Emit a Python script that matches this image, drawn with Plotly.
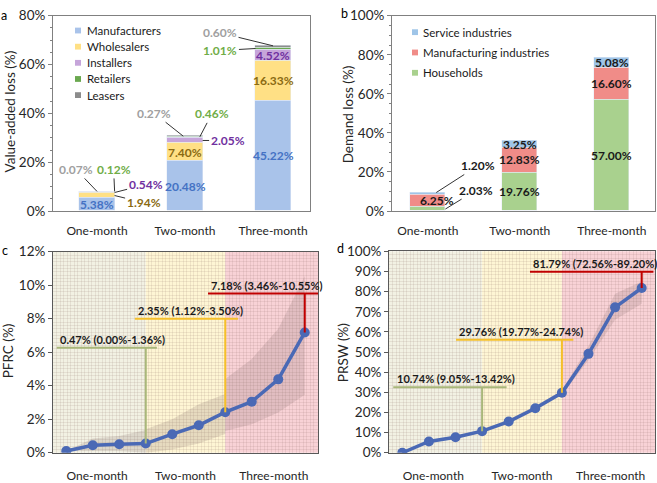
import numpy as np
import plotly.graph_objects as go

# ---------------- data ----------------
periods = ["One-month", "Two-month", "Three-month"]

# panel a: value-added loss (%)
va_names = ["Manufacturers", "Wholesalers", "Installers", "Retailers", "Leasers"]
manufacturers = [5.38, 20.48, 45.22]
wholesalers = [1.94, 7.40, 16.33]
installers = [0.54, 2.05, 4.52]
retailers = [0.12, 0.46, 1.01]
leasers = [0.07, 0.27, 0.60]

# panel b: demand loss (%)
dl_names = ["Households", "Manufacturing industries", "Service industries"]
households = [2.03, 19.76, 57.00]
manufacturing_ind = [6.25, 12.83, 16.60]
service_ind = [1.20, 3.25, 5.08]

# panel c: PFRC (%)
steps = list(range(10))
pfrc = [0.10, 0.45, 0.51, 0.55, 1.11, 1.64, 2.42, 3.05, 4.38, 7.18]
pfrc_band_low = [[0.10, 0.10, 0.10, 0.00], [0.00, 0.20, 0.55, 1.12], [1.30, 1.70, 2.40, 3.46]]
pfrc_band_high = [[0.10, 0.85, 1.00, 1.36], [1.40, 2.00, 2.90, 3.50], [4.40, 5.60, 7.40, 10.55]]
pfrc_labels = ["0.47% (0.00%-1.36%)", "2.35% (1.12%-3.50%)", "7.18% (3.46%-10.55%)"]

# panel d: PRSW (%)
prsw = [0.0, 5.6, 7.7, 10.74, 15.5, 22.1, 29.76, 49.1, 72.2, 81.79]
prsw_band_low = [[0.0, 5.0, 7.0, 10.0], [10.0, 14.5, 21.0, 28.8], [28.8, 46.0, 66.0, 74.0]]
prsw_band_high = [[0.0, 6.2, 8.5, 11.6], [11.6, 16.5, 23.3, 30.8], [30.8, 53.0, 79.0, 85.0]]
prsw_labels = ["10.74% (9.05%-13.42%)", "29.76% (19.77%-24.74%)", "81.79% (72.56%-89.20%)"]

seg_idx = [[0, 1, 2, 3], [3, 4, 5, 6], [6, 7, 8, 9]]

# ---------------- style ----------------
FONT = "Lato, Roboto, 'Liberation Sans', sans-serif"
TXT = "#262626"
W, H = 657, 483

va_colors = ["#a9c3ea", "#ffe085", "#c6a5da", "#6aa84f", "#8c8c8c"]
va_label_colors = ["#4472c4", "#8a6a12", "#7030a0", "#70ad47", "#a0a0a0"]
dl_colors = ["#a9d18e", "#f08c88", "#9fc5e8"]
region_colors = ["#f2f1e3", "#fef5d4", "#f8d2d6"]
seg_line_colors = ["#a9b77a", "#f5bf2a", "#c00000"]
GRID = "rgba(140,110,100,0.13)"
LINE_BLUE = "#4a69b5"
XTICK_SIZE = 12
YTICK_SIZE = 13.5
BAR_LBL = 12

fig = go.Figure()
annots = []
shapes = []


def px_x(v):
    return v / W


def px_y(v):
    return 1 - v / H


# ---------------- panel a ----------------
xa = np.arange(len(periods))
va_series = [manufacturers, wholesalers, installers, retailers, leasers]
bw_a = 0.4
for name, vals, col in zip(va_names, va_series, va_colors):
    fig.add_trace(go.Bar(x=xa, y=vals, name=name, marker_color=col, width=bw_a,
                         xaxis="x", yaxis="y", showlegend=False))

va_arr = np.array(va_series)
va_top = np.cumsum(va_arr, axis=0)
va_bot = va_top - va_arr

inside_a = {(0, 0), (0, 1), (0, 2), (1, 1), (1, 2), (2, 2)}
for s in range(len(va_names)):
    for p in range(len(periods)):
        if (s, p) in inside_a:
            annots.append(dict(x=xa[p], y=(va_top[s, p] + va_bot[s, p]) / 2, xref="x", yref="y",
                               text="<b>%.2f%%</b>" % va_arr[s, p], showarrow=False,
                               font=dict(size=BAR_LBL, color=va_label_colors[s], family=FONT)))

# outside labels: (series, period, tip x offset in bar widths, tip y mode, ax, ay)
outside_a = [
    (1, 0, 0.5, "mid", 29, 7),
    (2, 0, 0.5, "mid", 31, -8),
    (3, 0, 0.5, "total", -1, -22),
    (4, 0, 0.0, "total", -21, -22),
    (2, 1, 0.5, "mid", 25, 0),
    (3, 1, 0.42, "top", 12, -23),
    (4, 1, -0.05, "total", -29, -23),
    (3, 2, -0.5, "mid", -35, 2),
    (4, 2, 0.0, "total", -53, -13),
]
for s, p, dx, mode, ax, ay in outside_a:
    if mode == "mid":
        ty = (va_top[s, p] + va_bot[s, p]) / 2
    elif mode == "top":
        ty = va_top[s, p]
    else:
        ty = va_top[-1, p]
    annots.append(dict(x=xa[p] + dx * bw_a, y=ty, xref="x", yref="y", ax=ax, ay=ay,
                       text="<b>%.2f%%</b>" % va_arr[s, p], showarrow=True, arrowhead=0,
                       arrowwidth=1, arrowcolor="#333333", standoff=0,
                       font=dict(size=BAR_LBL, color=va_label_colors[s], family=FONT)))

# manual legend (a)
for k, (name, col) in enumerate(zip(va_names, va_colors)):
    yc = 23.3 + 16.7 * k
    shapes.append(dict(type="rect", xref="paper", yref="paper", x0=px_x(75), x1=px_x(81),
                       y0=px_y(yc + 3), y1=px_y(yc - 3), fillcolor=col, line_width=0))
    annots.append(dict(x=px_x(84.5), y=px_y(yc), xref="paper", yref="paper", xanchor="left",
                       yanchor="middle", text=name, showarrow=False,
                       font=dict(size=11.5, color="#1a1a1a", family=FONT)))

# ---------------- panel b ----------------
xb = np.arange(len(periods))
dl_series = [households, manufacturing_ind, service_ind]
bw_b = 0.38
for name, vals, col in zip(dl_names, dl_series, dl_colors):
    fig.add_trace(go.Bar(x=xb, y=vals, name=name, marker_color=col, width=bw_b,
                         xaxis="x2", yaxis="y2", showlegend=False))
dl_arr = np.array(dl_series)
dl_top = np.cumsum(dl_arr, axis=0)
dl_bot = dl_top - dl_arr
for s in range(len(dl_names)):
    for p in range(len(periods)):
        if p == 0 and s != 1:
            continue
        dxp = 0.1 if p == 0 else 0.0
        annots.append(dict(x=xb[p] + dxp, y=(dl_top[s, p] + dl_bot[s, p]) / 2, xref="x2", yref="y2",
                           text="<b>%.2f%%</b>" % dl_arr[s, p], showarrow=False,
                           font=dict(size=BAR_LBL, color="#1a1a1a", family=FONT)))
outside_b = [
    (0, 0, 0.5, "mid", 31, -19),
    (2, 0, 0.24, "total", 42, -27),
]
for s, p, dx, mode, ax, ay in outside_b:
    ty = (dl_top[s, p] + dl_bot[s, p]) / 2 if mode == "mid" else dl_top[-1, p]
    annots.append(dict(x=xb[p] + dx * bw_b, y=ty, xref="x2", yref="y2", ax=ax, ay=ay,
                       text="<b>%.2f%%</b>" % dl_arr[s, p], showarrow=True, arrowhead=0,
                       arrowwidth=1, arrowcolor="#333333", standoff=0,
                       font=dict(size=BAR_LBL, color="#1a1a1a", family=FONT)))

# manual legend (b), top entry = top of stack
for k, s in enumerate(range(len(dl_names) - 1, -1, -1)):
    yc = 25 + 21 * k
    shapes.append(dict(type="rect", xref="paper", yref="paper", x0=px_x(412), x1=px_x(418),
                       y0=px_y(yc + 3), y1=px_y(yc - 3), fillcolor=dl_colors[s], line_width=0))
    annots.append(dict(x=px_x(421), y=px_y(yc), xref="paper", yref="paper", xanchor="left",
                       yanchor="middle", text=dl_names[s], showarrow=False,
                       font=dict(size=11.5, color="#1a1a1a", family=FONT)))


# ---------------- panels c & d ----------------
def risk_panel(xr, yr, vals, lows, highs, labels, levels, hspans, label_dy):
    xref, yref = xr, yr
    bounds = [-0.5, seg_idx[0][-1], seg_idx[1][-1], len(steps) - 0.5]
    for k in range(3):
        shapes.append(dict(type="rect", xref=xref, yref=yref + " domain", x0=bounds[k], x1=bounds[k + 1],
                           y0=0, y1=1, fillcolor=region_colors[k], line_width=0, layer="below"))
    for k in range(3):
        xs = [steps[i] for i in seg_idx[k]]
        fig.add_trace(go.Scatter(x=xs + xs[::-1], y=lows[k] + highs[k][::-1], fill="toself",
                                 fillcolor="rgba(110,90,90,0.17)", line=dict(width=0),
                                 mode="lines", hoverinfo="skip", showlegend=False,
                                 xaxis=xref, yaxis=yref))
    for k in range(3):
        i = seg_idx[k][-1]
        shapes.append(dict(type="line", xref=xref, yref=yref, x0=steps[i], x1=steps[i],
                           y0=vals[i], y1=levels[k], line=dict(color=seg_line_colors[k], width=2)))
        shapes.append(dict(type="line", xref=xref, yref=yref, x0=hspans[k][0], x1=hspans[k][1],
                           y0=levels[k], y1=levels[k], line=dict(color=seg_line_colors[k], width=2)))
        annots.append(dict(x=hspans[k][0] + 0.05, y=levels[k] + label_dy, xref=xref, yref=yref,
                           xanchor="left", yanchor="middle", showarrow=False,
                           text="<b>%s</b>" % labels[k], font=dict(size=11, color="#1a1a1a", family=FONT)))
    fig.add_trace(go.Scatter(x=steps, y=vals, mode="lines+markers",
                             line=dict(color=LINE_BLUE, width=3.5),
                             marker=dict(size=10, color=LINE_BLUE), showlegend=False,
                             xaxis=xref, yaxis=yref))


risk_panel("x3", "y3", pfrc, pfrc_band_low, pfrc_band_high, pfrc_labels,
           levels=[6.27, 8.0, 9.5], hspans=[(-0.36, 3.42), (2.59, 6.48), (5.35, 9.5)], label_dy=0.5)
risk_panel("x4", "y4", prsw, prsw_band_low, prsw_band_high, prsw_labels,
           levels=[32.5, 56.1, 89.9], hspans=[(-0.34, 3.92), (2.02, 6.43), (4.8, 9.44)], label_dy=4.2)

# ---------------- titles / panel letters ----------------
for txt, x, y in [("a", 4, 8), ("b", 344, 6), ("c", 5, 251), ("d", 340, 249)]:
    annots.append(dict(x=px_x(x), y=px_y(y), xref="paper", yref="paper", text=txt, showarrow=False,
                       xanchor="center", yanchor="middle",
                       font=dict(size=12.5, color="#000", family=FONT)))
for txt, x, y in [("Value-added loss (%)", 10, 107), ("Demand loss (%)", 348, 110),
                  ("PFRC (%)", 8, 355), ("PRSW (%)", 343, 357)]:
    annots.append(dict(x=px_x(x), y=px_y(y), xref="paper", yref="paper", text=txt, showarrow=False,
                       xanchor="center", yanchor="middle",
                       textangle=-90, font=dict(size=13.5, color=TXT, family=FONT)))

# ---------------- axes ----------------
AX = "#808080"
common_y = dict(ticks="outside", ticklen=4, tickcolor=AX, showline=True, linecolor=AX, mirror=True,
                ticksuffix="%", showgrid=False, zeroline=False,
                tickfont=dict(size=YTICK_SIZE, color=TXT, family=FONT))
common_x = dict(showline=True, linecolor=AX, mirror=True, showgrid=False, zeroline=False,
                tickfont=dict(size=XTICK_SIZE, color=TXT, family=FONT), ticklabelstandoff=9)

dom_a_x = [px_x(53), px_x(310)]
dom_b_x = [px_x(392), px_x(655)]
dom_top_y = [px_y(210), px_y(8)]
dom_c_x = [px_x(53), px_x(318)]
dom_d_x = [px_x(389), px_x(655)]
dom_bot_y = [px_y(460), px_y(252)]

period_ticks = [-0.5 + len(steps) * (k + 0.5) / len(periods) for k in range(len(periods))]

risk_x = dict(range=[-0.5, 9.5], tickvals=period_ticks, ticktext=periods,
              showline=True, linecolor="#595959", mirror=True, showgrid=False, zeroline=False,
              tickfont=dict(size=XTICK_SIZE, color=TXT, family=FONT), ticklabelstandoff=12,
              minor=dict(tickmode="linear", tick0=-0.5, dtick=0.133, showgrid=True, gridcolor=GRID, gridwidth=1))
risk_y = dict(ticksuffix="%", ticks="outside", ticklen=4, tickcolor="#595959",
              showline=True, linecolor="#595959", mirror=True, zeroline=False,
              showgrid=True, gridcolor=GRID, tickfont=dict(size=YTICK_SIZE, color=TXT, family=FONT))

fig.update_layout(
    width=W, height=H, margin=dict(l=0, r=0, t=0, b=0),
    paper_bgcolor="white", plot_bgcolor="white", barmode="stack", bargap=0,
    font=dict(family=FONT, color=TXT),
    showlegend=False,
    xaxis=dict(domain=dom_a_x, anchor="y", range=[-0.5, 2.42], tickvals=list(xa), ticktext=periods, **common_x),
    yaxis=dict(domain=dom_top_y, anchor="x", range=[0, 80], dtick=20,
               minor=dict(dtick=5, ticks="outside", ticklen=2, tickcolor=AX), **common_y),
    xaxis2=dict(domain=dom_b_x, anchor="y2", range=[-0.39, 2.47], tickvals=list(xb), ticktext=periods, **common_x),
    yaxis2=dict(domain=dom_top_y, anchor="x2", range=[0, 100], dtick=20,
                minor=dict(dtick=5, ticks="outside", ticklen=2, tickcolor=AX), **common_y),
    xaxis3=dict(domain=dom_c_x, anchor="y3", **risk_x),
    yaxis3=dict(domain=dom_bot_y, anchor="x3", range=[0, 12], dtick=2,
                minor=dict(dtick=0.2, showgrid=True, gridcolor=GRID), **risk_y),
    xaxis4=dict(domain=dom_d_x, anchor="y4", **risk_x),
    yaxis4=dict(domain=[px_y(460), px_y(251.7)], anchor="x4", range=[0, 100], dtick=10,
                minor=dict(dtick=100 / 60, showgrid=True, gridcolor=GRID), **risk_y),
    annotations=annots,
    shapes=shapes,
)

fig.write_html("out.html", config={"displayModeBar": False},
               post_script="document.body.style.margin='0px';")
